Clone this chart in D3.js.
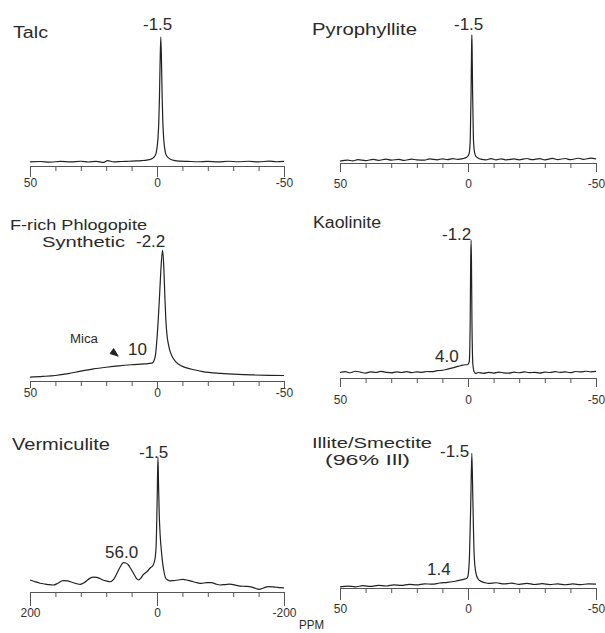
<!DOCTYPE html>
<html>
<head>
<meta charset="utf-8">
<script src="https://cdn.jsdelivr.net/npm/d3@7"></script>
<style>
body { margin: 0; background: #fff; }
text { font-family: "Liberation Sans", Arial, sans-serif; fill: #2a2a2a; }
</style>
</head>
<body>
<script>
// spectra: [ppm, intensity relative to main peak = 100]
const talc = [[50,3.2],[46,3.5],[42,3.0],[38,3.6],[34,3.2],[30,3.7],[27,3.1],[24,3.6],[21,2.8],[19.5,4.2],[17,3.2],[14,3.5],[11,3.7],[8,3.9],[6,4.2],[4,4.6],[2.5,5.2],[1.5,6.3],[0.5,9],[0,14],[-0.4,22],[-0.7,34],[-0.95,52],[-1.2,78],[-1.5,100],[-1.8,78],[-2.05,52],[-2.3,34],[-2.6,22],[-3,14],[-3.5,9],[-4.5,6.3],[-5.5,5],[-7,4.2],[-9,3.8],[-12,3.6],[-16,3.3],[-20,3.6],[-24,3.2],[-28,3.7],[-32,3.3],[-36,3.7],[-40,3.2],[-44,3.8],[-47,3.3],[-50,3.6]];
const pyrophyllite = [[50,1.5],[47,2.3],[45,1.6],[43,2.6],[40,1.9],[37,2.8],[35,2.1],[32,3.0],[30,2.2],[27,2.9],[25,2.0],[22,3.1],[20,2.4],[17,2.2],[15,3.2],[12,2.5],[10,3.3],[8,2.6],[6,3.4],[4,2.8],[2,3.4],[1,4],[0,5.5],[-0.5,8],[-0.9,20],[-1.2,55],[-1.4,90],[-1.5,100],[-1.6,90],[-1.8,55],[-2.1,20],[-2.5,9],[-3,5.5],[-4,3.8],[-5,3.0],[-7,2.5],[-9,3.4],[-11,2.5],[-13,3.3],[-15,2.4],[-18,3.2],[-20,2.5],[-23,3.5],[-25,2.6],[-28,3.4],[-30,2.5],[-33,3.6],[-35,2.7],[-38,3.5],[-40,2.6],[-43,3.7],[-45,2.9],[-48,3.8],[-50,3.2]];
const phlogopite = [[50,3],[45,3.5],[40,4.2],[35,5.6],[30,7.5],[25,9.2],[20,10.5],[15,11.6],[10,12.4],[5,13],[2,13.6],[1.2,15.5],[0.6,20],[0.1,30],[-0.4,44],[-0.9,61],[-1.5,84],[-2.2,100],[-2.7,86],[-3.1,64],[-3.5,46],[-4.0,34],[-4.6,27],[-5.1,23],[-6.3,17.5],[-7.7,14],[-9.5,11.6],[-11.7,10],[-14.5,8.6],[-18,7.2],[-25,5.8],[-32,5],[-38,4.6],[-44,4.3],[-50,4.2]];
const kaolinite = [[50,4.0],[48,4.6],[46,3.8],[44,4.9],[42,4.2],[40,3.6],[38,4.5],[36,4.0],[34,4.8],[32,4.1],[30,3.7],[28,4.4],[26,4.0],[24,4.6],[22,3.9],[20,4.4],[18,4.1],[16,4.7],[14,4.6],[12,5.3],[10,5.6],[8,6.4],[6,7.3],[4,8.4],[3,8.9],[2,9.3],[1,9.6],[0.2,9.6],[-0.5,12],[-0.85,40],[-1.05,85],[-1.2,100],[-1.35,85],[-1.55,40],[-1.9,10],[-2.4,4.5],[-3,3.3],[-4,4.0],[-6,3.4],[-8,4.1],[-10,3.6],[-12,4.3],[-14,3.7],[-16,3.5],[-18,4.2],[-20,3.8],[-22,4.4],[-24,3.9],[-26,4.1],[-28,3.6],[-30,4.3],[-32,4.0],[-34,4.6],[-36,4.1],[-38,4.4],[-40,3.9],[-42,4.7],[-44,4.4],[-46,4.9],[-48,4.5],[-50,4.8]];
const vermiculite = [[200,8.9],[192,7.6],[184,6.5],[176,5.9],[170,5.4],[163,5.2],[156,6.5],[148,8.4],[141,8.2],[134,7.2],[127,6.2],[121,5.7],[113,7.5],[106,10.1],[100,11],[95,10.9],[90,10],[85,8.9],[80,8.2],[74,7.6],[68,9.5],[63,13.9],[58,18.5],[53,21.7],[49,21.5],[45,20],[41,17],[37,13.9],[33,10.5],[29,8.9],[25,10.5],[22,12.6],[16,15],[11,17.6],[6,20],[3,25],[1.5,33],[0.5,50],[-0.5,75],[-1.5,100],[-2.5,78],[-3.5,58],[-5,42],[-7,30],[-9,21],[-11,15],[-13,11],[-16,9],[-20,8.3],[-26,8.4],[-33,8.9],[-41,9.4],[-49,8.6],[-57,7.6],[-63,6.9],[-70,6.4],[-78,6.9],[-86,6.9],[-92,6],[-99,5.2],[-107,5.5],[-115,5.9],[-123,5.1],[-131,4.4],[-139,4.2],[-146,4],[-153,3],[-161,2],[-168,3],[-175,4],[-182,3.8],[-188,3.5],[-194,3.2],[-200,3]];
const illite = [[50,0.8],[47,1.4],[44,0.9],[41,1.7],[38,1.2],[35,2.0],[32,1.5],[29,2.3],[26,1.9],[23,2.7],[20,2.3],[17,3.1],[14,2.8],[11,3.7],[8,4.2],[5,5],[3,5.8],[1.4,6.6],[0.5,7],[0,9],[-0.6,25],[-1.1,65],[-1.5,100],[-1.9,65],[-2.4,25],[-3,12],[-3.8,7],[-5,5],[-6.5,4],[-8,3.4],[-11,3.9],[-14,3],[-17,3.6],[-20,2.7],[-23,3.4],[-26,2.6],[-29,3.2],[-32,2.5],[-35,3.1],[-38,2.4],[-41,3.0],[-44,2.5],[-47,3.1],[-50,2.8]];

const ticks50 = [50, 0, -50];
const ticks200 = [200, 0, -200];
const minor50 = [50, 40, 30, 20, 10, 0, -10, -20, -30, -40, -50];
const minor200 = [200, 160, 120, 80, 40, 0, -40, -80, -120, -160, -200];

const width = 605, height = 633;
const svg = d3.select("body").append("svg")
    .attr("width", width)
    .attr("height", height);

function panel(p) {
    const x = d3.scaleLinear().domain(p.domain).range([p.x0, p.x1]);
    const y = d3.scaleLinear().domain([0, 100]).range([p.axisY, p.topY]);
    const g = svg.append("g");

    g.append("g")
        .attr("transform", `translate(0,${p.axisY})`)
        .call(d3.axisBottom(x).tickValues(p.minor).tickSize(5).tickSizeOuter(0).tickFormat(""));

    const major = g.append("g")
        .attr("transform", `translate(0,${p.axisY})`)
        .call(d3.axisBottom(x).tickValues(p.major).tickSize(p.majorLen).tickSizeOuter(0).tickFormat(d => String(d)));
    major.selectAll("text")
        .attr("y", p.labelDy)
        .attr("dy", null)
        .style("font-size", "12px")
        .style("fill", "#333");

    g.selectAll(".domain, .tick line").attr("stroke", "#555").attr("stroke-width", 1);

    g.append("path")
        .datum(p.data)
        .attr("fill", "none")
        .attr("stroke", "#222")
        .attr("stroke-width", 1.2)
        .attr("d", d3.line().x(d => x(d[0])).y(d => y(d[1])).curve(d3.curveMonotoneX));
    return { x, y };
}

// titles are stretched to the widths measured on the figure
function label(txt, x, y, size, len) {
    const t = svg.append("text")
        .attr("x", x).attr("y", y)
        .style("font-size", size + "px")
        .text(txt);
    if (len) t.attr("textLength", len).attr("lengthAdjust", "spacingAndGlyphs");
    return t;
}

// Talc
panel({ data: talc, domain: [50, -50], x0: 30, x1: 284, axisY: 166, topY: 37, minor: minor50, major: ticks50, majorLen: 11, labelDy: 21 });
label("Talc", 13, 38, 16, 35);
label("-1.5", 143, 30, 17);

// Pyrophyllite
panel({ data: pyrophyllite, domain: [50, -50], x0: 340, x1: 596, axisY: 163, topY: 35, minor: minor50, major: ticks50, majorLen: 9, labelDy: 25 });
label("Pyrophyllite", 312, 35, 16, 105);
label("-1.5", 454, 30, 17);

// F-rich phlogopite
const ph = panel({ data: phlogopite, domain: [50, -50], x0: 30, x1: 284, axisY: 381, topY: 250, minor: minor50, major: ticks50, majorLen: 7, labelDy: 16 });
label("F-rich Phlogopite", 10, 230, 15, 137);
label("Synthetic", 42, 247, 15, 83);
label("-2.2", 136, 247, 17);
label("Mica", 70, 343, 12, 28);
label("10", 128, 355, 17);
// arrow pointing to the mica shoulder
const tip = [ph.x(15.3), ph.y(19)];
svg.append("path")
    .attr("d", `M${tip[0]},${tip[1]} L${tip[0] - 8},${tip[1] - 2.5} L${tip[0] - 4.5},${tip[1] - 7.5} Z`)
    .attr("fill", "#222")
    .attr("stroke", "#222")
    .attr("stroke-width", 1);

// Kaolinite
panel({ data: kaolinite, domain: [50, -50], x0: 340, x1: 596, axisY: 378, topY: 240, minor: minor50, major: ticks50, majorLen: 9, labelDy: 26 });
label("Kaolinite", 313, 228, 16, 68);
label("-1.2", 442, 240, 17);
label("4.0", 435, 362, 17);

// Vermiculite
panel({ data: vermiculite, domain: [200, -200], x0: 30, x1: 284, axisY: 592, topY: 457, minor: minor200, major: ticks200, majorLen: 14, labelDy: 25 });
label("Vermiculite", 12, 450, 16, 98);
label("-1.5", 139, 458, 17);
label("56.0", 105, 558, 17);

// Illite/Smectite
panel({ data: illite, domain: [50, -50], x0: 340, x1: 596, axisY: 588, topY: 453, minor: minor50, major: ticks50, majorLen: 12, labelDy: 25 });
label("Illite/Smectite", 312, 448, 15, 120);
label("(96% Ill)", 325, 465, 15, 85);
label("-1.5", 440, 457, 17);
label("1.4", 427, 575, 17);

label("PPM", 299, 629, 12, 25);
</script>
</body>
</html>
